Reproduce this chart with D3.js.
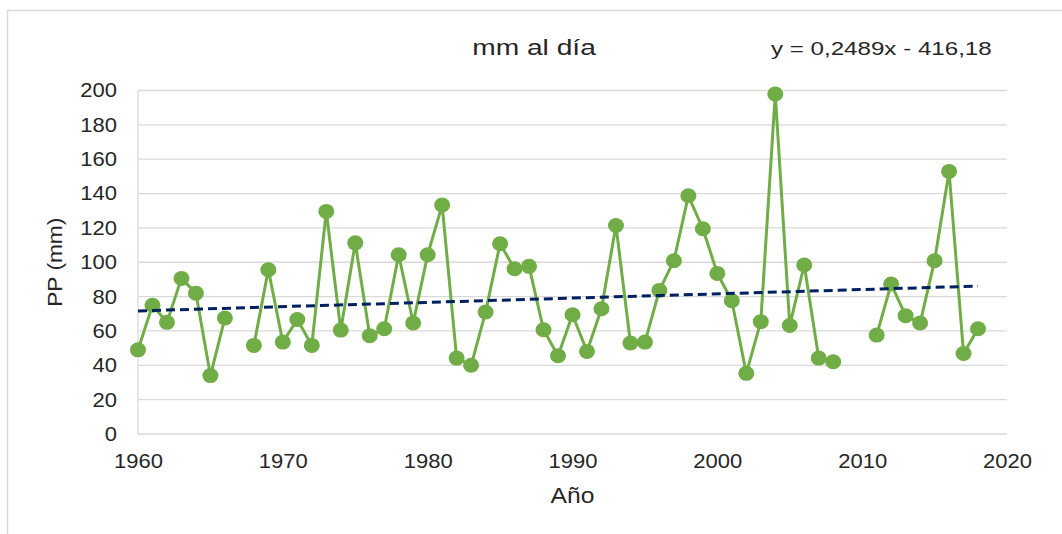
<!DOCTYPE html>
<html lang="es">
<head>
  <meta charset="UTF-8">
  <title>mm al día</title>
  <script src="https://d3js.org/d3.v7.min.js"></script>
  <style>
    body { margin: 0; background: #fff; }
    svg { display: block; font-family: "Liberation Sans", Arial, sans-serif; }
  </style>
</head>
<body>
  <svg width="1062" height="534"></svg>
  <script>
    // Años y precipitación máxima diaria (null = sin dato)
    const years = d3.range(1960, 2019);
    const pp = [
      49, 75, 65, 90.6, 82, 34, 67.5, null, 51.6, 95.6,
      53.5, 66.7, 51.6, 129.6, 60.5, 111.3, 57.2, 61.3, 104.4, 64.6,
      104.4, 133.3, 44.2, 40, 71, 110.8, 96.2, 97.6, 60.7, 45.6,
      69.4, 48.1, 72.9, 121.4, 53, 53.5, 83.6, 100.9, 138.7, 119.5,
      93.5, 77.6, 35.3, 65.4, 198, 63.2, 98.4, 44.2, 42.1, null,
      null, 57.6, 87.3, 68.9, 64.6, 100.9, 152.9, 46.9, 61.3
    ];
    const xTicks = [1960, 1970, 1980, 1990, 2000, 2010, 2020];
    const yTicks = [0, 20, 40, 60, 80, 100, 120, 140, 160, 180, 200];
    const trend = { slope: 0.2489, intercept: -416.18, from: 1960, to: 2018 };

    const data = years.map((y, i) => ({ year: y, value: pp[i] }));

    const margin = { top: 90.5, right: 55, bottom: 100, left: 138 };
    const W = 1062, H = 534;
    const width = W - margin.left - margin.right;
    const height = H - margin.top - margin.bottom;
    const textColor = "#262626";

    const svg = d3.select("svg");

    // the original text is a little wider than Liberation Sans
    function widen(sel, k) {
      sel.each(function() {
        const len = this.getComputedTextLength();
        d3.select(this)
          .attr("textLength", len * k)
          .attr("lengthAdjust", "spacingAndGlyphs");
      });
    }

    // chart area border
    svg.append("rect")
      .attr("x", 7.5).attr("y", 10.5)
      .attr("width", 1070).attr("height", 540)
      .attr("fill", "none")
      .attr("stroke", "#d9d9d9")
      .attr("stroke-width", 1.5);

    const g = svg.append("g")
      .attr("transform", `translate(${margin.left},${margin.top})`);

    const x = d3.scaleLinear().domain([1960, 2020]).range([0, width]);
    const y = d3.scaleLinear().domain([0, 200]).range([height, 0]);

    // horizontal gridlines
    g.append("g")
      .selectAll("line")
      .data(yTicks)
      .join("line")
      .attr("x1", 0).attr("x2", width)
      .attr("y1", d => y(d)).attr("y2", d => y(d))
      .attr("stroke", "#d9d9d9")
      .attr("stroke-width", 1.3);

    // y axis line
    g.append("line")
      .attr("x1", 0).attr("x2", 0)
      .attr("y1", 0).attr("y2", height)
      .attr("stroke", "#d9d9d9")
      .attr("stroke-width", 1.3);

    const yAxis = g.append("g")
      .call(d3.axisLeft(y).tickValues(yTicks).tickSize(0).tickPadding(21));
    yAxis.select(".domain").remove();
    yAxis.selectAll("text")
      .attr("font-size", 20)
      .attr("fill", textColor)
      .attr("font-family", "Liberation Sans, Arial, sans-serif")
      .call(widen, 1.1);

    const xAxis = g.append("g")
      .attr("transform", `translate(0,${height})`)
      .call(d3.axisBottom(x).tickValues(xTicks).tickFormat(d3.format("d")).tickSize(0).tickPadding(19.5));
    xAxis.select(".domain").remove();
    xAxis.selectAll("text")
      .attr("font-size", 20)
      .attr("fill", textColor)
      .attr("font-family", "Liberation Sans, Arial, sans-serif")
      .call(widen, 1.1);

    // data line with gaps
    const line = d3.line()
      .defined(d => d.value !== null)
      .x(d => x(d.year))
      .y(d => y(d.value));

    g.append("path")
      .datum(data)
      .attr("fill", "none")
      .attr("stroke", "#70ad47")
      .attr("stroke-width", 3)
      .attr("stroke-linejoin", "round")
      .attr("d", line);

    g.selectAll(".pt")
      .data(data.filter(d => d.value !== null))
      .join("ellipse")
      .attr("class", "pt")
      .attr("cx", d => x(d.year))
      .attr("cy", d => y(d.value))
      .attr("rx", 8)
      .attr("ry", 7.5)
      .attr("fill", "#70ad47");

    // linear trend
    g.append("line")
      .attr("x1", x(trend.from))
      .attr("y1", y(trend.slope * trend.from + trend.intercept))
      .attr("x2", x(trend.to))
      .attr("y2", y(trend.slope * trend.to + trend.intercept))
      .attr("stroke", "#002060")
      .attr("stroke-width", 3)
      .attr("stroke-dasharray", "9,5");

    // texts
    svg.append("text")
      .attr("x", 534).attr("y", 55)
      .attr("text-anchor", "middle")
      .attr("font-size", 22)
      .attr("fill", textColor)
      .text("mm al día")
      .call(widen, 1.28);

    svg.append("text")
      .attr("x", 771).attr("y", 55)
      .attr("font-size", 19)
      .attr("fill", textColor)
      .text("y = 0,2489x - 416,18")
      .call(widen, 1.27);

    svg.append("text")
      .attr("transform", `translate(62,${margin.top + height / 2}) rotate(-90)`)
      .attr("text-anchor", "middle")
      .attr("font-size", 21)
      .attr("fill", textColor)
      .text("PP (mm)")
      .call(widen, 1.08);

    svg.append("text")
      .attr("x", margin.left + width / 2).attr("y", 503)
      .attr("text-anchor", "middle")
      .attr("font-size", 22)
      .attr("fill", textColor)
      .text("Año")
      .call(widen, 1.12);
  </script>
</body>
</html>
